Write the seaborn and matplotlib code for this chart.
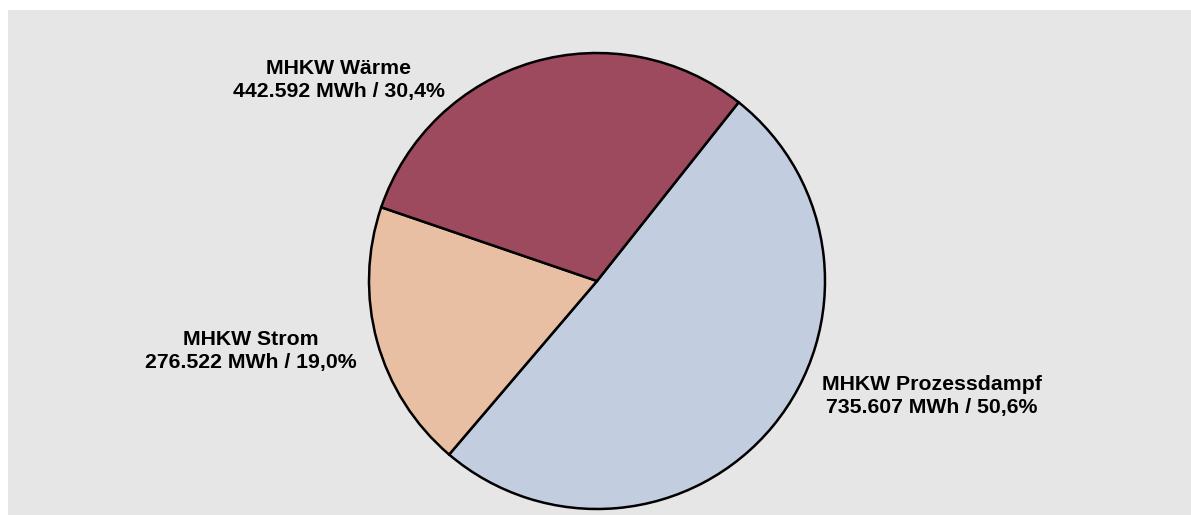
import numpy as np
import pandas as pd
import matplotlib
matplotlib.use('Agg')
import matplotlib.pyplot as plt
import seaborn as sns
from matplotlib.patches import Rectangle

# data
names = ['MHKW Prozessdampf', 'MHKW Strom', 'MHKW Wärme']
mwh = [735.607, 276.522, 442.592]
shares = ['50,6%', '19,0%', '30,4%']
value_labels = ['735.607', '276.522', '442.592']
colors = ['#c3cde0', '#e8bfa3', '#9e4a5e']

sns.set_theme(style='white')
plt.rcParams['font.family'] = ['Liberation Sans', 'DejaVu Sans']

W, H = 1191, 515
fig = plt.figure(figsize=(W / 100, H / 100), dpi=100)
fig.patch.set_facecolor('white')
# grey panel
fig.patches.append(Rectangle((8 / W, 0), 1, (H - 10) / H, transform=fig.transFigure,
                             facecolor='#e6e6e6', edgecolor='none', zorder=-10))

ax = fig.add_axes([0, 0, 1, 1])
ax.set_facecolor('none')
ax.set_zorder(5)

df = pd.DataFrame({'name': names, 'mwh': mwh, 'share': shares, 'val': value_labels})
ax.pie(df.mwh, colors=colors, startangle=51.6, counterclock=False, radius=1,
       wedgeprops=dict(edgecolor='black', linewidth=1.8))

# limits after pie (pie resets them)
cx, cy, r = 597, 281, 228
ax.set_xlim(-cx / r, (W - cx) / r)
ax.set_ylim(-(H - cy) / r, cy / r)
ax.set_aspect('equal')
ax.axis('off')

# label positions (pixel positions of text centres)
label_px = {'MHKW Prozessdampf': (932, 396), 'MHKW Strom': (251, 351), 'MHKW Wärme': (339, 80)}
for _, row in df.iterrows():
    px, py = label_px[row['name']]
    ax.text((px - cx) / r, (cy - py) / r,
            f"{row['name']}\n{row.val} MWh / {row.share}",
            ha='center', va='center', fontsize=15.3, fontweight='bold',
            linespacing=1.32, color='black')

fig.savefig('out.png', dpi=100)
